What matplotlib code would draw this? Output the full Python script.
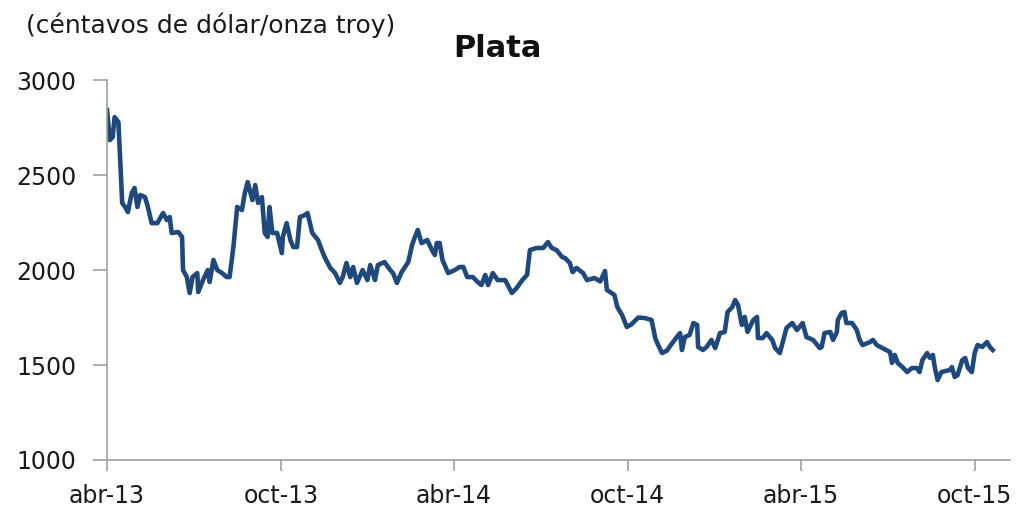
import numpy as np
import pandas as pd
import matplotlib
matplotlib.use("Agg")
import matplotlib.pyplot as plt

# dias desde 2013-04-01 y precio (centavos de dolar / onza troy)
dias = [0, 3, 6, 8, 12, 16, 19, 22, 26, 29, 32, 35, 40, 43, 47, 53, 59, 63, 66, 68,
        75, 79, 80, 84, 87, 90, 95, 96, 101, 106, 108, 112, 116, 121, 126, 129, 133,
        137, 142, 145, 148, 153, 156, 159, 163, 166, 169, 171, 174, 179, 184, 185,
        189, 193, 196, 200, 203, 208, 211, 216, 222, 226, 229, 235, 240, 245, 248,
        252, 256, 259, 263, 269, 274, 277, 282, 285, 292, 298, 301, 305, 310, 317,
        321, 324, 327, 331, 337, 342, 345, 347, 350, 353, 359, 366, 371, 375, 379,
        385, 390, 394, 398, 401, 406, 411, 419, 426, 431, 437, 442, 445, 452, 459,
        464, 468, 473, 479, 482, 487, 490, 494, 501, 505, 513, 519, 524, 526, 531,
        534, 537, 542, 547, 552, 559, 566, 573, 577, 579, 584, 589, 594, 600, 603,
        605, 608, 613, 617, 621, 622, 627, 631, 636, 640, 645, 650, 653, 658, 661,
        664, 668, 671, 674, 680, 684, 685, 690, 694, 700, 703, 708, 715, 721, 726,
        732, 736, 743, 750, 752, 755, 761, 764, 768, 769, 773, 776, 778, 784, 789,
        792, 795, 803, 806, 810, 816, 824, 826, 829, 832, 837, 842, 847, 852, 855,
        858, 863, 866, 869, 871, 874, 878, 887, 889, 892, 895, 900, 903, 906, 910,
        913, 916, 921, 926, 929, 932]
precio = [2842, 2684, 2700, 2805, 2779, 2353, 2332, 2305, 2405, 2432, 2332, 2395,
          2384, 2332, 2247, 2247, 2300, 2263, 2279, 2195, 2200, 2174, 2000, 1963,
          1879, 1963, 1984, 1884, 1947, 2000, 1937, 2053, 2000, 1984, 1963, 1963,
          2121, 2332, 2316, 2405, 2463, 2368, 2447, 2353, 2384, 2195, 2174, 2332,
          2195, 2195, 2089, 2174, 2247, 2158, 2121, 2121, 2279, 2289, 2300, 2195,
          2158, 2105, 2068, 2011, 1984, 1932, 1963, 2037, 1963, 2016, 1932, 2000,
          1947, 2026, 1947, 2026, 2042, 2000, 1984, 1932, 1989, 2042, 2132, 2174,
          2211, 2142, 2158, 2105, 2079, 2142, 2142, 2053, 1984, 2000, 2016, 2016,
          1963, 1963, 1937, 1921, 1974, 1921, 1984, 1947, 1947, 1879, 1905, 1947,
          1974, 2105, 2116, 2116, 2147, 2116, 2105, 2068, 2063, 2037, 1989, 2011,
          1984, 1947, 1958, 1940, 1995, 1895, 1879, 1868, 1805, 1763, 1700, 1715,
          1750, 1747, 1737, 1640, 1616, 1563, 1575, 1610, 1650, 1668, 1579, 1647,
          1658, 1721, 1711, 1595, 1579, 1595, 1632, 1589, 1668, 1674, 1779, 1805,
          1842, 1816, 1711, 1753, 1674, 1737, 1753, 1642, 1642, 1668, 1632, 1589,
          1563, 1695, 1721, 1684, 1721, 1647, 1632, 1589, 1595, 1668, 1674, 1632,
          1674, 1737, 1774, 1779, 1721, 1721, 1684, 1632, 1605, 1621, 1632, 1605,
          1589, 1568, 1511, 1553, 1511, 1489, 1463, 1484, 1484, 1463, 1526, 1563,
          1537, 1553, 1489, 1421, 1463, 1474, 1489, 1437, 1447, 1526, 1537, 1484,
          1463, 1563, 1605, 1595, 1621, 1595, 1579]

ticks_x = ["2013-04-01", "2013-10-01", "2014-04-01", "2014-10-01", "2015-04-01", "2015-10-01"]
etiquetas_x = ["abr-13", "oct-13", "abr-14", "oct-14", "abr-15", "oct-15"]
ticks_y = [1000, 1500, 2000, 2500, 3000]

fechas = pd.Timestamp("2013-04-01") + pd.to_timedelta(dias, unit="D")

plt.rcParams['font.family'] = ['DejaVu Sans']

fig = plt.figure(figsize=(10.19, 5.12), dpi=100)
ax = fig.add_axes([0.105, 0.1016, 0.886, 0.742])

ax.plot(fechas, precio, color="#1F497D", linewidth=3.3, solid_joinstyle="round")

ax.set_ylim(1000, 3000)
ax.set_yticks(ticks_y)
ax.set_xlim(pd.Timestamp("2013-04-01"), pd.Timestamp("2015-11-07"))
ax.set_xticks(pd.to_datetime(ticks_x))
ax.set_xticklabels(etiquetas_x)

for s in ["top", "right"]:
    ax.spines[s].set_visible(False)
for s in ["left", "bottom"]:
    ax.spines[s].set_color("#a0a0a0")
    ax.spines[s].set_linewidth(1.2)

ax.tick_params(axis="y", length=10, width=1.2, color="#a0a0a0", labelsize=17,
               labelcolor="#1a1a1a", pad=12)
ax.tick_params(axis="x", length=8, width=1.2, color="#a0a0a0", labelsize=17,
               labelcolor="#1a1a1a", pad=9)

fig.text(0.488, 0.889, "Plata", ha="center", va="baseline", fontsize=22,
         fontweight="bold", color="#111111")
fig.text(0.026, 0.936, "(céntavos de dólar/onza troy)", ha="left", va="baseline",
         fontsize=18, color="#1a1a1a")

fig.savefig("out.png", dpi=100)
